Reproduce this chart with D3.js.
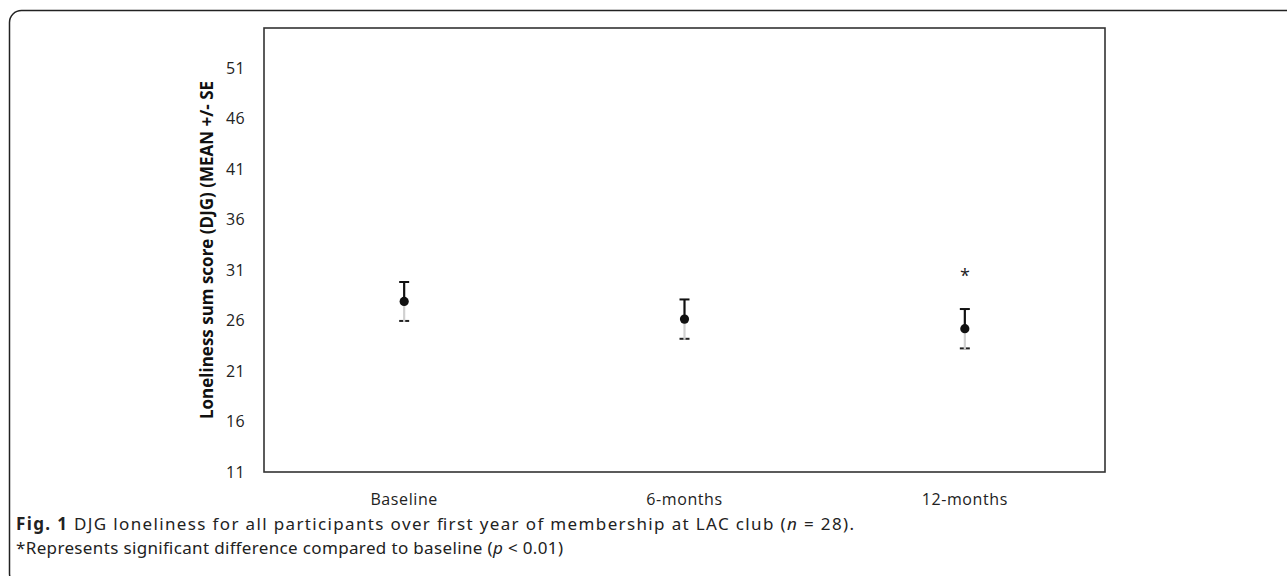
<!DOCTYPE html>
<html>
<head>
<meta charset="utf-8">
<script src="https://cdn.jsdelivr.net/npm/d3@7"></script>
<style>
  body { margin: 0; background: #fff; }
  svg { display: block; }
</style>
</head>
<body>
<svg id="chart" width="1287" height="576"></svg>
<script>
// data
var categories = ["Baseline", "6-months", "12-months"];
var means = [27.9, 26.15, 25.2];
var se = [1.93, 1.95, 1.95];
var significant = [false, false, true];
var yTicks = [11, 16, 21, 26, 31, 36, 41, 46, 51];

var svg = d3.select("#chart");

// outer figure frame (rounded, runs off the right and bottom)
svg.append("rect")
	.attr("x", 9.5).attr("y", 10.5)
	.attr("width", 1400).attr("height", 575)
	.attr("rx", 12).attr("ry", 12)
	.style("fill", "none")
	.style("stroke", "#222")
	.style("stroke-width", 1.5);

var plotLeft = 264, plotRight = 1105, plotTop = 28, plotBottom = 472;

var x = d3.scaleBand().domain(categories).range([plotLeft, plotRight]);
var y = d3.scaleLinear().domain([11, 55]).range([plotBottom, plotTop]);

// plot frame
svg.append("rect")
	.attr("x", plotLeft).attr("y", plotTop)
	.attr("width", plotRight - plotLeft).attr("height", plotBottom - plotTop)
	.style("fill", "none")
	.style("stroke", "#333")
	.style("stroke-width", 1.6);

var font = "'Open Sans', sans-serif";

// y axis labels
var yAxis = d3.axisLeft(y).tickValues(yTicks).tickSize(0).tickPadding(19);
var gy = svg.append("g").attr("transform", "translate(" + plotLeft + ",0)").call(yAxis);
gy.select(".domain").remove();
gy.selectAll("text")
	.style("font-family", font)
	.style("font-size", "16px")
	.style("letter-spacing", "0.4px")
	.style("fill", "#222");

// x axis labels
var xAxis = d3.axisBottom(x).tickSize(0).tickPadding(22);
var gx = svg.append("g").attr("transform", "translate(0," + plotBottom + ")").call(xAxis);
gx.select(".domain").remove();
gx.selectAll("text")
	.style("font-family", font)
	.style("font-size", "16px")
	.style("letter-spacing", "0.6px")
	.style("fill", "#222");

// y axis title
svg.append("text")
	.attr("transform", "translate(213," + ((plotTop + plotBottom) / 2) + ") rotate(-90)")
	.attr("text-anchor", "middle")
	.style("font-family", font)
	.style("font-size", "17px")
	.style("font-weight", "bold")
	.style("fill", "#111")
	.text("Loneliness sum score (DJG) (MEAN +/- SE");

// error bars + points
var rows = categories.map(function(c, i) {
	return { cat: c, mean: means[i], se: se[i], sig: significant[i] };
});

var g = svg.selectAll("g.pt").data(rows).enter()
	.append("g")
	.classed("pt", true)
	.attr("transform", function(d) { return "translate(" + (x(d.cat) + x.bandwidth() / 2) + ",0)"; });

// lower cap (dark), stem over it in light gray
g.append("line")
	.attr("x1", -5).attr("x2", 5)
	.attr("y1", function(d) { return y(d.mean - d.se); })
	.attr("y2", function(d) { return y(d.mean - d.se); })
	.style("stroke", "#222").style("stroke-width", 2);
g.append("line")
	.attr("x1", 0).attr("x2", 0)
	.attr("y1", function(d) { return y(d.mean); })
	.attr("y2", function(d) { return y(d.mean - d.se) + 1; })
	.style("stroke", "#d0d0d0").style("stroke-width", 2.2);

// upper stem + cap, black
g.append("line")
	.attr("x1", 0).attr("x2", 0)
	.attr("y1", function(d) { return y(d.mean); })
	.attr("y2", function(d) { return y(d.mean + d.se); })
	.style("stroke", "#111").style("stroke-width", 2.2);
g.append("line")
	.attr("x1", -5).attr("x2", 5)
	.attr("y1", function(d) { return y(d.mean + d.se); })
	.attr("y2", function(d) { return y(d.mean + d.se); })
	.style("stroke", "#111").style("stroke-width", 2);

g.append("circle")
	.attr("cy", function(d) { return y(d.mean); })
	.attr("r", 4.6)
	.style("fill", "#111");

// significance marker
g.filter(function(d) { return d.sig; })
	.append("text")
	.attr("y", function(d) { return y(d.mean + d.se) - 27; })
	.attr("text-anchor", "middle")
	.style("font-family", font)
	.style("font-size", "18px")
	.style("fill", "#222")
	.text("*");

// caption
var capFont = "'Noto Sans', 'Open Sans', sans-serif";
var cap1 = svg.append("text")
	.attr("x", 16).attr("y", 530)
	.attr("textLength", 838)
	.attr("lengthAdjust", "spacing")
	.style("font-family", capFont)
	.style("font-size", "17px")
	.style("fill", "#222");
cap1.append("tspan").style("font-weight", "bold").text("Fig. 1");
cap1.append("tspan").text(" DJG loneliness for all participants over first year of membership at LAC club (");
cap1.append("tspan").style("font-style", "italic").text("n");
cap1.append("tspan").text(" = 28).");

var cap2 = svg.append("text")
	.attr("x", 16).attr("y", 554)
	.attr("textLength", 547)
	.attr("lengthAdjust", "spacing")
	.style("font-family", capFont)
	.style("font-size", "17px")
	.style("fill", "#222");
cap2.append("tspan").text("*Represents significant difference compared to baseline (");
cap2.append("tspan").style("font-style", "italic").text("p");
cap2.append("tspan").text(" < 0.01)");
</script>
</body>
</html>
